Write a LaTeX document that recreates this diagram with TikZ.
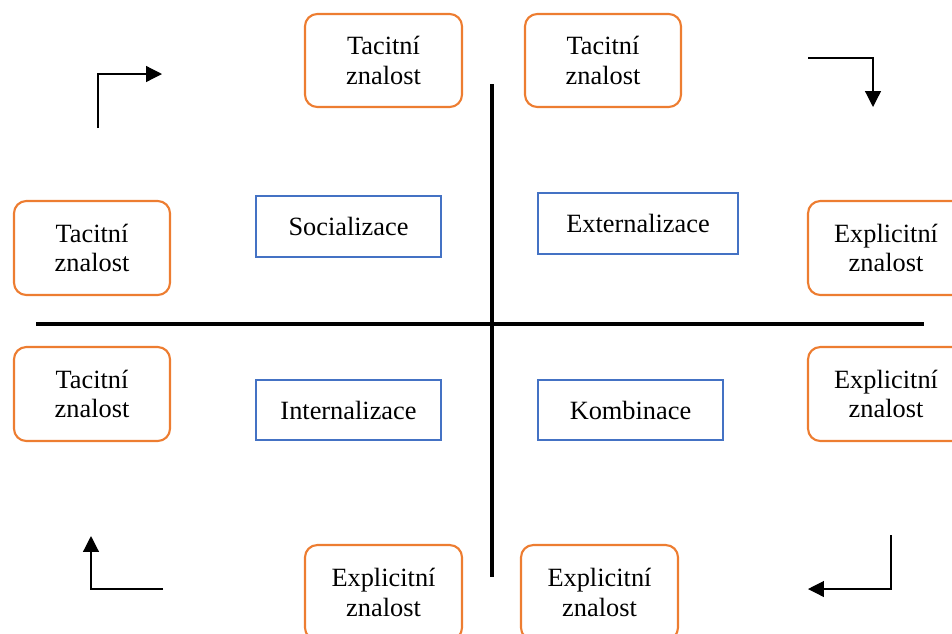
\documentclass[tikz,border=0pt]{standalone}
\usepackage{fontspec}
\setmainfont{Liberation Serif}
\usetikzlibrary{arrows.meta}
\definecolor{orng}{HTML}{ED7D31}
\definecolor{blu}{HTML}{4472C4}
\begin{document}
\begin{tikzpicture}[x=0.02cm,y=-0.02cm,
  kbox/.style={draw=orng,line width=1.2pt,rounded corners=7pt,fill=white,align=center,
    inner sep=0pt,font=\fontsize{15}{17}\selectfont},
  pbox/.style={draw=blu,line width=1.1pt,fill=white,align=center,inner sep=0pt,
    font=\fontsize{15}{17}\selectfont},
  axis/.style={line width=2.3pt},
  turn/.style={line width=0.7pt,-{Triangle[length=9pt,width=9pt]}}]
\useasboundingbox (0,0) rectangle (952,633);
% axes
\coordinate (hl) at (36,324); \coordinate (hr) at (924,324);
\coordinate (vt) at (492,84); \coordinate (vb) at (492,577);
\draw[axis] (hl) -- (hr);
\draw[axis] (vt) -- (vb);
% orange boxes
\node[kbox,minimum width=157*0.02cm,minimum height=93*0.02cm] (t1) at (383.5,60.5) {Tacitní\\znalost};
\node[kbox,minimum width=156*0.02cm,minimum height=93*0.02cm] (t2) at (603,60.5) {Tacitní\\znalost};
\node[kbox,minimum width=156*0.02cm,minimum height=94*0.02cm] (l1) at (92,248) {Tacitní\\znalost};
\node[kbox,minimum width=156*0.02cm,minimum height=94*0.02cm] (l2) at (92,394) {Tacitní\\znalost};
\node[kbox,minimum width=156*0.02cm,minimum height=94*0.02cm] (r1) at (886,248) {\hspace*{0pt}Explicitní\\znalost};
\node[kbox,minimum width=156*0.02cm,minimum height=94*0.02cm] (r2) at (886,394) {Explicitní\\znalost};
\node[kbox,minimum width=157*0.02cm,minimum height=95*0.02cm] (b1) at (383.5,592.5) {Explicitní\\znalost};
\node[kbox,minimum width=157*0.02cm,minimum height=95*0.02cm] (b2) at (599.5,592.5) {Explicitní\\znalost};
% blue boxes
\node[pbox,minimum width=185*0.02cm,minimum height=61*0.02cm] (s) at (348.5,226.5) {Socializace};
\node[pbox,minimum width=200*0.02cm,minimum height=61*0.02cm] (e) at (638,223.5) {Externalizace};
\node[pbox,minimum width=185*0.02cm,minimum height=60*0.02cm] (i) at (348.5,410) {Internalizace};
\node[pbox,minimum width=185*0.02cm,minimum height=60*0.02cm] (k) at (630.5,410) {Kombinace};
% turning arrows
\coordinate (a1s) at (98,128); \coordinate (a1e) at (162,74);
\draw[turn] (a1s) |- (a1e);
\coordinate (a2s) at (808,58); \coordinate (a2e) at (873,107);
\draw[turn] (a2s) -| (a2e);
\coordinate (a3s) at (163,589); \coordinate (a3e) at (91,536);
\draw[turn] (a3s) -| (a3e);
\coordinate (a4s) at (891,535); \coordinate (a4e) at (808,589);
\draw[turn] (a4s) |- (a4e);
\end{tikzpicture}
\end{document}
